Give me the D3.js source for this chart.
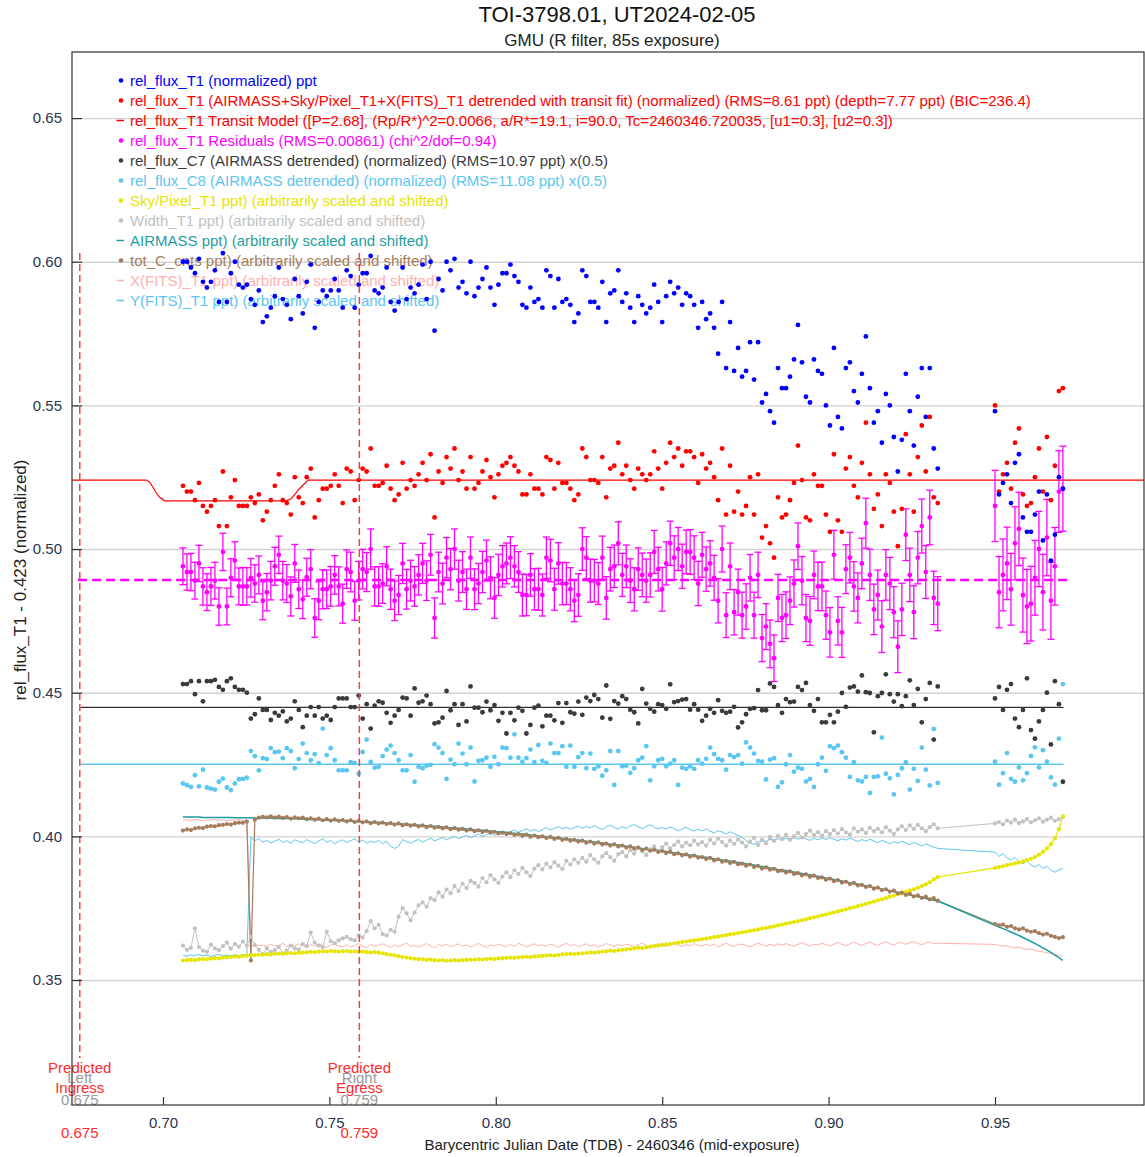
<!DOCTYPE html>
<html>
<head>
<meta charset="utf-8">
<script src="https://cdn.jsdelivr.net/npm/d3@7"></script>
<style>
  body { margin: 0; background: #fff; }
  svg { font-family: "Liberation Sans", Arial, sans-serif; }
</style>
</head>
<body>
<div id="chart"></div>
<script>
// time axis: (BJD_TDB - 2460346) x 1e4
const bjd = [
  7060,7072,7084,7096,7108,7120,7132,7144,7156,7168,
  7180,7192,7204,7216,7228,7240,7252,7264,7276,7288,
  7300,7312,7324,7336,7348,7360,7372,7384,7396,7408,
  7420,7432,7444,7456,7468,7480,7492,7504,7516,7528,
  7540,7552,7564,7576,7588,7600,7612,7624,7636,7648,
  7660,7672,7684,7696,7708,7720,7732,7744,7756,7768,
  7780,7792,7804,7816,7828,7840,7852,7864,7876,7888,
  7900,7912,7924,7936,7948,7960,7972,7984,7996,8008,
  8020,8032,8044,8056,8068,8080,8092,8104,8116,8128,
  8140,8152,8164,8176,8188,8200,8212,8224,8236,8248,
  8260,8272,8284,8296,8308,8320,8332,8344,8356,8368,
  8380,8392,8404,8416,8428,8440,8452,8464,8476,8488,
  8500,8512,8524,8536,8548,8560,8572,8584,8596,8608,
  8620,8632,8644,8656,8668,8680,8692,8704,8716,8728,
  8740,8752,8764,8776,8788,8800,8812,8824,8836,8848,
  8860,8872,8884,8896,8908,8920,8932,8944,8956,8968,
  8980,8992,9004,9016,9028,9040,9052,9064,9076,9088,
  9100,9112,9124,9136,9148,9160,9172,9184,9196,9208,
  9220,9232,9244,9256,9268,9280,9292,9304,9316,9328,
  9500,9512,9524,9536,9548,9560,9572,9584,9596,9608,
  9620,9632,9644,9656,9668,9680,9692,9704
];

// all plotted values below are (plot y) x 1000
const relFluxT1 = [
  600,600,598,596,601,593,591,593,597,586,
  603,586,596,600,592,591,592,587,585,590,
  579,581,584,588,598,587,585,580,594,588,
  582,593,599,577,586,590,588,590,594,590,
  584,597,595,584,592,596,596,602,590,589,
  591,598,586,583,586,598,587,591,589,592,
  599,587,600,576,594,590,600,597,601,591,
  593,589,600,588,591,594,598,591,585,592,
  596,596,599,595,593,585,584,591,586,587,
  584,597,595,584,594,586,587,585,579,582,
  597,595,586,586,584,593,579,589,590,597,
  586,589,584,579,588,585,582,584,592,586,
  579,588,593,589,591,585,589,588,585,577,
  586,580,582,577,568,586,563,579,562,570,
  560,562,572,559,572,551,554,548,544,563,
  556,556,560,566,578,565,553,551,566,562,
  561,550,543,570,546,542,563,565,555,551,
  561,574,556,544,548,537,554,550,539,527,
  538,561,548,536,553,563,546,563,535,528,
  548,519,523,526,516,530,533,511,506,506,
  512,520,503,519,496,505,525,521
];

const detrendedT1 = [
  522,520,520,517,523,515,513,515,517,508,
  527,508,518,524,515,515,515,518,516,519,
  510,513,517,522,526,517,516,512,525,518,
  516,525,528,511,517,521,521,522,526,522,
  516,528,527,517,524,528,527,535,522,522,
  523,529,521,517,519,530,521,524,522,526,
  530,524,533,511,527,523,532,528,535,524,
  527,521,532,521,523,527,531,525,518,526,
  529,530,532,529,527,519,519,526,521,521,
  519,532,531,521,530,523,523,521,517,519,
  535,532,524,524,523,532,518,528,529,537,
  526,529,524,521,528,526,524,526,534,528,
  521,530,537,532,535,529,534,534,532,523,
  533,528,530,525,517,535,512,529,513,520,
  512,515,525,512,526,504,508,502,497,518,
  511,512,517,523,536,524,511,510,526,522,
  522,512,506,533,510,506,528,532,522,518,
  530,544,526,514,519,508,526,523,513,501,
  514,540,526,513,532,543,527,546,518,516,
  550,520,526,530,521,537,542,519,515,516,
  525,535,520,539,517,529,555,556
];

const residualsT1 = [
  494,492,492,489,495,487,485,487,489,480,
  499,480,490,496,487,487,487,490,488,491,
  482,485,489,494,498,489,488,483.5,495,486,
  482.5,490.2,493,476,482,486,486,487,491,487,
  481,493,492,482,489,493,492,500,487,487,
  488,494,486,482,484,495,486,489,487,491,
  495,489,498,476,492,488,497,493,500,489,
  492,486,497,486,488,492,496,490,483,491,
  494,495,497,494,492,484,484,491,486,486,
  484,497,496,486,495,488,488,486,482,484,
  500,497,489,489,488,497,483,493,494,502,
  491,494,489,486,493,491,489,491,499,493,
  486,495,502,497,500,494,499,499,497,488,
  498,493,495,490,482,500,477,494,478,485,
  477,480,490,477,491,469,473,467,462,483,
  476,477,482,488,501,489,476,475,491,487,
  487,477,471,498,475,471,493,497,487,483,
  495,509,491,479,484,473,491,488,478,466,
  479,505,491,478,497,508,492,511,483,481,
  515,485,491,495,486,502,507,484,480,481,
  490,500,485,504,482,494,520,521
];

const residualErr = [
  6.4,6.3,6.5,6.4,6.3,6.5,6.4,6.6,6.4,6.5,
  6.5,6.4,6.6,6.5,6.4,6.6,6.5,6.7,6.5,6.6,
  6.6,6.5,6.7,6.6,6.5,6.7,6.6,6.8,6.6,6.7,
  6.7,6.6,6.8,6.7,6.6,6.8,6.7,6.9,6.7,6.8,
  6.8,6.7,6.9,6.8,6.7,6.9,6.8,7.0,6.8,6.9,
  6.9,6.8,7.0,6.9,6.8,7.0,6.9,7.1,6.9,7.0,
  7.0,6.9,7.1,7.0,6.9,7.1,7.0,7.2,7.0,7.1,
  7.1,7.0,7.2,7.1,7.0,7.2,7.1,7.3,7.1,7.2,
  7.2,7.1,7.3,7.2,7.1,7.3,7.2,7.4,7.2,7.3,
  7.3,7.2,7.4,7.3,7.2,7.4,7.3,7.5,7.3,7.4,
  7.4,7.3,7.5,7.4,7.3,7.5,7.4,7.6,7.4,7.5,
  7.5,7.4,7.6,7.5,7.4,7.6,7.5,7.7,7.5,7.6,
  7.6,7.5,7.7,7.6,7.5,7.7,7.6,7.8,7.6,7.7,
  7.8,7.7,7.9,7.8,7.7,8.0,7.8,8.1,7.9,8.0,
  8.0,7.9,8.1,8.0,7.9,8.2,8.0,8.3,8.1,8.2,
  8.2,8.1,8.3,8.2,8.1,8.4,8.2,8.5,8.3,8.4,
  8.5,8.4,8.6,8.5,8.4,8.7,8.5,8.8,8.6,8.7,
  8.8,8.7,8.9,8.8,8.7,9.0,8.8,9.1,8.9,9.0,
  9.1,9.0,9.3,9.2,9.1,9.4,9.2,9.5,9.3,9.4,
  12.4,12.4,12.5,12.6,12.5,12.7,12.8,12.9,12.9,13.0,
  13.0,13.1,13.2,13.3,13.4,13.5,14.2,14.8
];

const relFluxC7 = [
  453,453,454,449.5,454,447,454,454,454.5,452,
  451,454,455,452,451,451,450,441,442.5,448,
  444,444,440.5,443,442,443.5,440,441,447,444,
  438,442,445,442,445,441,442,440.5,445,448,
  448,448,445,445,449,441,446,437.5,445.5,447,
  446.5,443,439.5,442,444,448.3,448,442,451.5,446.5,
  447,449,446,439.3,439.7,441.3,450.6,443.9,446,438.8,
  446,440,452.2,444.8,444.8,443.2,446.9,443.9,445.7,440.2,
  443,435.8,443,440.4,444.8,443.7,435.8,438.8,444.8,445.5,
  438.3,442,442,440.4,446.4,439.5,446.4,443.2,442.7,446.9,
  442.3,448.3,447.1,449.2,447.8,441.3,452.5,440.9,447.1,446.2,
  448.8,447.8,444.1,443.2,439.3,451.3,446.2,444.4,443.4,446,
  445.7,444.4,452.9,446.7,447.1,447.6,447.8,444.1,446,444.1,
  440.2,442,444.4,443,447.4,443.7,443,443.4,445.1,437.9,
  439.7,442.5,444.4,444.6,450.9,443.9,443.9,453.2,452,445.7,
  443,447.8,446.7,446.9,452,450.9,453.4,445.7,443.7,447.8,
  439.7,439.7,442.3,439.7,443.4,449.9,445.1,451.8,452.2,450.4,
  456,450.2,449.9,436.2,448.8,449.9,456.4,449.5,446.9,449.5,
  445.3,448.8,454.3,445.7,451.3,439.7,447.8,453.4,433.7,452.2,
  448,452,444,451,453,441,438,444,455,437,
  434,440,444,450,432,454,446,419
];

const relFluxC8 = [
  418.4,417.8,417.2,421.3,417.4,423.2,417,416.6,416.3,419,
  420.1,417,416.1,418.4,419.9,420,420.4,429.7,427.9,423,
  427.2,426.9,430.7,429.3,429.5,427.2,430.7,429.7,423.7,426.9,
  432.3,429,426.5,428.6,425.5,437.5,428.3,430.7,426.5,423,
  423,423,425.8,425.5,421.8,429.4,433.7,425.9,423.9,424.2,
  427.9,430.2,431.6,429,426.5,423,423,428.3,419,424.2,
  423.7,424.6,424.9,432.1,430.9,429,420,426.7,425.1,432.3,
  428.8,425.1,430.9,419.1,426.3,426.5,427.4,424.2,427.7,425.1,
  430.9,430.7,427.4,435.5,427.4,426,427.2,430.2,425.8,431.8,
  426.3,425.6,432.3,429,429,431.4,424.2,431.6,424.2,427.6,
  429,423.7,428.8,423.5,424.4,421.1,423,429.7,417.9,429.7,
  424.4,424.6,422.1,423.7,426.5,427.4,431.4,419.5,424.4,426.5,
  427,424.4,425.3,426.5,417.9,423.9,423.5,424.4,423.5,426.5,
  425.3,427,430.9,428.6,427,426.5,423.2,428.3,427.6,428.3,
  425.3,432.7,430.9,428.8,426.3,426,419.8,426.7,427.2,417.2,
  418.8,425.1,428.3,422.5,423.9,423.5,419.1,420,417.2,425.1,
  427.4,422.8,431.4,430.7,431.6,429.3,427.4,420.7,425.8,419.5,
  419.1,420.7,415.1,420.7,420.9,434.4,421.8,420.2,414.6,421.4,
  423.7,425.8,416.3,423.5,419.3,430.9,423.2,417.7,437.4,418.6,
  426,418,422,429,420,419,424,419.5,422,428,
  431,424,430,426,420.5,418,434,453
];

const skyPixelT1 = [
  356.8,356.9,357.0,356.9,357.2,357.3,357.2,357.5,357.6,357.5,
  357.8,357.9,358.0,358.2,358.1,358.4,358.5,358.6,358.7,358.8,
  358.8,359.0,358.9,359.1,359.2,359.1,359.3,359.4,359.3,359.5,
  359.5,359.6,359.8,359.7,359.9,360.0,359.9,360.1,360.0,359.9,
  360.0,360.1,359.9,360.0,359.8,359.9,359.7,359.6,359.7,359.5,
  359.3,359.0,358.8,358.6,358.3,358.0,357.8,357.6,357.4,357.3,
  357.2,357.0,357.1,356.9,356.8,356.9,356.7,356.8,356.9,356.8,
  356.9,357.0,357.0,357.1,357.2,357.1,357.3,357.4,357.3,357.5,
  357.6,357.7,357.8,357.7,357.9,358.0,358.1,358.0,358.2,358.3,
  358.4,358.5,358.6,358.5,358.7,358.9,359.0,359.1,359.0,359.2,
  359.3,359.4,359.6,359.5,359.7,359.9,360.0,360.2,360.1,360.3,
  360.5,360.7,360.8,361.0,361.2,361.1,361.4,361.6,361.8,362.0,
  362.2,362.4,362.5,362.8,363.0,363.2,363.4,363.6,363.8,364.0,
  364.2,364.4,364.7,364.9,365.1,365.4,365.6,365.9,366.1,366.3,
  366.6,366.8,367.1,367.3,367.6,367.9,368.1,368.4,368.7,369.0,
  369.3,369.6,369.9,370.2,370.5,370.8,371.1,371.5,371.8,372.1,
  372.5,372.8,373.2,373.5,373.9,374.2,374.6,375.0,375.3,375.7,
  376.1,376.5,376.9,377.3,377.7,378.1,378.5,379.0,379.4,379.8,
  380.2,380.7,381.1,381.6,382.1,382.7,383.3,384.0,385.0,385.8,
  389.0,389.3,389.6,390.0,390.3,390.6,390.9,391.3,391.7,392.2,
  392.8,393.6,394.6,395.8,397.3,399.3,402.5,407.0
];

const widthT1 = [
  362.0,360.5,361.2,368.0,361.5,360.2,359.8,362.3,361.0,360.4,
  361.8,363.0,360.9,362.5,361.6,363.4,362.0,365.0,362.2,360.5,
  359.0,361.0,359.8,360.4,361.5,359.3,360.2,362.0,361.0,360.6,
  362.5,361.8,366.5,363.0,362.0,361.5,366.8,363.5,362.8,363.8,
  364.5,365.0,364.2,363.8,365.6,364.8,367.0,370.5,368.0,369.2,
  366.0,365.5,367.5,366.8,372.0,375.0,373.2,370.8,373.5,376.0,
  377.0,375.5,378.5,377.8,380.5,379.0,381.5,380.2,382.8,381.0,
  383.5,382.0,384.5,383.8,382.5,385.5,384.0,386.5,385.0,383.8,
  386.0,387.5,385.8,388.2,386.9,389.0,387.5,386.2,388.8,390.0,
  388.5,390.5,389.2,391.0,389.8,388.6,391.5,390.2,392.0,390.8,
  392.5,391.2,393.5,392.0,390.8,393.0,394.2,392.8,391.5,393.8,
  394.5,393.0,395.2,394.0,396.0,394.8,393.5,395.5,396.5,395.0,
  396.2,397.5,395.8,397.0,398.2,396.5,397.8,396.9,398.5,397.2,
  398.0,396.8,398.8,397.5,399.2,398.0,396.8,398.5,397.4,398.9,
  397.8,396.5,398.2,399.5,397.0,398.8,397.6,399.8,398.4,400.2,
  399.0,400.5,398.8,400.0,401.2,399.6,400.8,402.0,400.4,401.5,
  400.2,401.8,400.8,402.2,401.0,402.5,401.4,400.6,402.8,401.6,
  402.4,401.2,403.0,401.8,402.6,401.4,403.2,402.0,400.8,402.4,
  403.5,402.2,403.8,402.6,404.0,402.8,401.8,403.2,404.2,402.8,
  404.5,405.0,404.2,405.5,404.8,405.8,404.6,405.2,406.0,404.9,
  405.6,406.3,405.1,405.8,406.5,405.4,406.0,406.8
];

const airmass = [
  406.7,406.7,406.7,406.7,406.7,406.6,406.6,406.6,406.6,406.6,
  406.6,406.6,406.6,406.5,406.5,406.5,406.5,406.5,406.4,406.4,
  406.4,406.4,406.3,406.3,406.2,406.2,406.2,406.1,406.1,406.0,
  406.0,405.9,405.9,405.8,405.8,405.7,405.6,405.6,405.5,405.5,
  405.4,405.3,405.3,405.2,405.1,405.1,405.0,404.9,404.8,404.8,
  404.7,404.6,404.5,404.4,404.3,404.3,404.2,404.1,404.0,403.9,
  403.8,403.7,403.6,403.5,403.4,403.3,403.1,403.0,402.9,402.8,
  402.7,402.6,402.5,402.3,402.2,402.1,402.0,401.9,401.7,401.6,
  401.5,401.4,401.2,401.1,400.9,400.8,400.7,400.5,400.4,400.2,
  400.1,399.9,399.8,399.6,399.5,399.3,399.1,399.0,398.8,398.7,
  398.5,398.3,398.2,398.0,397.8,397.7,397.5,397.3,397.1,397.0,
  396.8,396.6,396.4,396.2,396.0,395.8,395.7,395.5,395.3,395.1,
  394.9,394.7,394.5,394.3,394.1,393.9,393.7,393.5,393.3,393.1,
  392.9,392.7,392.5,392.2,392.0,391.8,391.6,391.4,391.1,390.9,
  390.7,390.5,390.2,390.0,389.7,389.5,389.3,389.0,388.8,388.5,
  388.3,388.1,387.8,387.6,387.3,387.1,386.8,386.6,386.3,386.1,
  385.8,385.5,385.3,385.0,384.7,384.5,384.2,383.9,383.6,383.4,
  383.1,382.8,382.5,382.2,381.9,381.7,381.4,381.1,380.8,380.5,
  380.2,379.9,379.6,379.3,379.0,378.7,378.4,378.1,377.8,377.5,
  369.0,368.45,367.9,367.3,366.7,366.1,365.5,364.8,364.1,363.4,
  362.7,362.0,361.2,360.4,359.6,358.7,357.8,356.8
];

const totCompCounts = [
  402.0,402.4,402.2,402.8,403.0,402.9,403.4,403.6,403.5,403.9,
  404.0,404.3,404.1,404.6,404.8,404.7,405.1,356.8,405.8,406.5,
  406.8,406.6,407.0,406.5,406.9,406.4,406.7,406.2,406.6,406.3,
  406.5,406.0,406.3,405.8,406.2,405.6,406.0,405.5,405.9,405.4,
  405.7,405.2,405.6,405.0,405.4,404.9,405.2,404.6,405.0,404.5,
  404.8,404.3,404.6,404.1,404.5,403.9,404.2,403.7,404.0,403.5,
  403.8,403.2,403.6,403.0,403.3,402.8,403.1,402.5,402.9,402.3,
  402.6,402.0,402.4,401.8,402.1,401.5,401.9,401.3,401.6,401.0,
  401.3,400.8,401.1,400.5,400.8,400.2,400.6,399.9,400.3,399.7,
  400.0,399.4,399.8,399.1,399.5,398.8,399.1,398.5,398.8,398.2,
  398.5,397.8,398.2,397.5,397.9,397.2,397.5,396.8,397.2,396.5,
  396.8,396.1,396.5,395.7,396.1,395.3,395.7,395.0,395.3,394.6,
  394.9,394.2,394.6,393.8,394.1,393.4,393.7,392.9,393.3,392.6,
  392.8,392.1,392.5,391.6,392.0,391.2,391.5,390.7,391.1,390.3,
  390.5,389.8,390.2,389.3,389.7,388.8,389.2,388.4,388.7,387.9,
  388.1,387.4,387.8,386.9,387.2,386.4,386.8,385.9,386.3,385.5,
  385.7,384.9,385.3,384.4,384.8,383.9,384.2,383.4,383.8,382.9,
  383.1,382.4,382.7,381.8,382.2,381.3,381.6,380.8,381.1,380.2,
  380.4,379.6,380.0,379.1,379.5,378.6,379.0,378.1,378.5,377.6,
  369.5,369.0,369.3,368.5,368.8,368.0,367.6,368.0,367.2,366.8,
  367.0,366.3,365.8,366.1,365.4,365.0,364.6,364.9
];

const xFitsT1 = [
  405.6,405.8,405.5,405.9,405.7,405.4,405.8,405.6,405.9,405.5,
  405.7,405.4,405.8,405.6,405.9,405.5,405.7,361.5,362.4,361.9,
  362.2,361.6,362.5,361.8,362.0,362.8,361.5,362.3,361.9,362.6,
  362.0,361.4,362.3,361.7,362.6,361.9,361.3,362.1,362.5,361.8,
  361.6,362.2,361.5,362.0,362.7,361.8,361.2,362.4,361.7,362.1,
  362.6,361.9,361.4,362.2,361.6,362.3,362.8,361.7,362.0,361.5,
  362.1,362.7,361.8,361.3,362.4,361.9,362.5,361.6,362.0,362.6,
  361.7,362.3,361.5,362.0,362.8,361.9,361.4,362.2,361.8,362.5,
  362.0,361.6,362.4,361.8,362.9,362.2,361.5,362.1,362.6,361.9,
  362.3,361.7,362.5,362.0,361.4,362.2,362.8,361.9,362.4,361.6,
  362.1,362.6,361.8,362.3,361.5,362.0,362.7,362.2,361.7,362.4,
  361.9,362.5,362.1,361.6,362.3,362.8,362.0,361.5,362.2,362.6,
  362.0,361.7,362.4,362.9,362.2,361.6,362.3,361.9,362.7,362.1,
  361.8,362.4,362.0,362.6,361.5,362.2,362.8,362.1,361.7,362.3,
  362.5,362.0,361.6,362.2,362.9,362.3,361.8,362.4,362.0,362.6,
  362.1,362.7,362.2,361.7,362.4,363.0,362.3,361.9,362.5,362.2,
  362.8,362.3,361.9,362.5,363.1,362.4,362.0,362.6,363.2,362.5,
  362.1,362.7,363.2,362.5,362.0,362.8,363.3,362.6,362.2,362.9,
  363.0,362.4,362.9,363.4,362.7,362.3,362.9,363.3,362.6,362.8,
  362.4,362.1,361.8,361.9,361.5,361.2,361.4,360.9,360.6,360.8,
  360.3,360.0,359.8,359.5,359.2,358.9,358.6,358.3
];

const yFitsT1 = [
  358.6,358.3,358.8,358.5,358.9,358.4,358.7,358.2,358.6,358.9,
  358.4,358.7,358.3,358.8,358.5,358.9,358.6,399.7,398.5,399.2,
  398.0,398.6,397.7,398.3,399.0,397.9,398.5,397.6,398.8,398.2,
  397.8,398.9,398.1,397.5,398.4,399.1,397.9,398.6,397.4,398.2,
  398.8,397.9,398.5,399.2,398.0,398.7,397.6,398.3,397.8,398.6,
  397.4,398.3,396.5,395.8,396.6,398.9,398.2,397.6,398.4,398.9,
  398.0,398.7,399.3,398.4,399.0,399.6,398.8,399.4,400.0,399.2,
  399.8,400.4,399.6,400.2,400.8,400.0,400.6,401.2,400.4,401.0,
  401.5,400.8,401.6,402.2,401.4,402.0,402.6,401.8,402.4,401.7,
  402.3,403.0,402.2,402.8,403.4,402.6,403.2,402.5,403.1,403.6,
  402.8,403.5,402.9,403.7,403.0,402.4,403.3,403.9,403.1,402.6,
  403.4,402.8,403.6,404.1,403.3,402.7,403.5,404.0,403.2,402.6,
  403.1,402.5,403.3,402.7,401.9,402.6,403.2,402.4,401.8,402.5,
  401.9,402.6,401.8,401.2,402.0,401.5,400.8,401.6,400.9,400.3,
  399.6,398.5,397.6,397.2,398.0,398.8,398.2,399.0,398.4,399.2,
  398.7,399.4,398.8,399.6,399.0,399.7,399.1,398.6,399.3,398.8,
  399.5,398.9,399.6,399.0,398.4,399.2,398.7,399.4,398.8,398.2,
  398.9,398.3,399.0,398.4,397.8,398.6,398.0,397.4,398.2,397.6,
  398.3,397.7,397.1,397.9,397.3,396.6,397.4,396.8,396.2,395.8,
  394.5,393.0,394.0,392.5,391.8,392.6,391.2,390.5,391.4,390.0,
  389.3,390.2,388.8,389.6,388.2,387.5,388.4,388.8
];

// transit model breakpoints (time in days, value x 1000)
const modelTime = [0.6727, 0.6950, 0.6960, 0.6970, 0.6980, 0.6990, 0.7005, 0.7370, 0.7385, 0.7410, 0.7436, 0.9948];
const modelValue = [524, 524, 523.3, 521.5, 519.5, 518, 516.8, 516.8, 517.5, 521, 524, 524];

const residualLevel = 489.2;
const c7Level = 444.9;
const c8Level = 425.1;

const yTicks = [0.35, 0.40, 0.45, 0.50, 0.55, 0.60, 0.65];
const xTicks = [0.70, 0.75, 0.80, 0.85, 0.90, 0.95];

const predictedTimes = [0.675, 0.759];
const predictedNames = ['Ingress', 'Egress'];
const predictedSides = ['Left', 'Right'];

const legendLabels = [
  'rel_flux_T1 (normalized) ppt',
  'rel_flux_T1 (AIRMASS+Sky/Pixel_T1+X(FITS)_T1 detrended with transit fit) (normalized) (RMS=8.61 ppt) (depth=7.77 ppt) (BIC=236.4)',
  'rel_flux_T1 Transit Model ([P=2.68], (Rp/R*)^2=0.0066, a/R*=19.1, i=90.0, Tc=2460346.720035, [u1=0.3], [u2=0.3])',
  'rel_flux_T1 Residuals (RMS=0.00861) (chi^2/dof=0.94)',
  'rel_flux_C7 (AIRMASS detrended) (normalized) (RMS=10.97 ppt) x(0.5)',
  'rel_flux_C8 (AIRMASS detrended) (normalized) (RMS=11.08 ppt) x(0.5)',
  'Sky/Pixel_T1 ppt) (arbitrarily scaled and shifted)',
  'Width_T1 ppt) (arbitrarily scaled and shifted)',
  'AIRMASS ppt) (arbitrarily scaled and shifted)',
  'tot_C_cnts ppt) (arbitrarily scaled and shifted)',
  'X(FITS)_T1 ppt) (arbitrarily scaled and shifted)',
  'Y(FITS)_T1 ppt) (arbitrarily scaled and shifted)'
];

// ---------------------------------------------------------------
const W = 1145, H = 1157;
const box = {left: 72, top: 52, right: 1144, bottom: 1105};
const col = {
  blue: '#0000ff', red: '#ff0000', magenta: '#ff00ff', c7: '#3a3a3a', c8: '#5bc6f0',
  sky: '#e6e600', width: '#c2c2c2', airmass: '#1f9ea0', tot: '#a67c5b', xfits: '#ffb0b0', yfits: '#5bc6f0'
};
const legendColors = [col.blue, col.red, col.red, col.magenta, col.c7, col.c8, col.sky, col.width, col.airmass, col.tot, col.xfits, col.yfits];
const legendKinds = ['dot','dot','dash','dot','dot','dot','dot','dot','dash','dot','dash','dash'];

const x = d3.scaleLinear().domain([0.67266, 0.99477]).range([box.left, box.right]);
const y = d3.scaleLinear().domain([0.3065, 0.6730]).range([box.bottom, box.top]);

const t = bjd.map(b => b / 1e4);
const px = i => x(t[i]);
const py = v => y(v / 1000);

const svg = d3.select('#chart').append('svg').attr('width', W).attr('height', H);

svg.append('defs').append('clipPath').attr('id', 'plotclip')
  .append('rect').attr('x', box.left).attr('y', box.top)
  .attr('width', box.right - box.left).attr('height', box.bottom - box.top);

// horizontal grid
svg.append('g')
  .attr('transform', `translate(${box.left},0)`)
  .call(d3.axisLeft(y).tickValues(yTicks).tickSize(-(box.right - box.left)).tickFormat(''))
  .call(g => g.select('.domain').remove())
  .call(g => g.selectAll('line').attr('stroke', '#d2d2d2').attr('stroke-width', 1.4));

// legend (drawn under the data)
const leg = svg.append('g');
legendLabels.forEach((lab, i) => {
  const ly = 80.5 + 20 * i;
  if (legendKinds[i] === 'dot') {
    leg.append('circle').attr('cx', 121).attr('cy', ly).attr('r', 2.3).attr('fill', legendColors[i]);
  } else {
    leg.append('line').attr('x1', 116.5).attr('x2', 124).attr('y1', ly).attr('y2', ly)
      .attr('stroke', legendColors[i]).attr('stroke-width', 1.5);
  }
  leg.append('text').attr('x', 130).attr('y', ly + 5.5).attr('font-size', 15)
    .attr('fill', legendColors[i]).text(lab);
});

const plot = svg.append('g').attr('clip-path', 'url(#plotclip)');

const lineOf = arr => d3.line().x((d, i) => px(i)).y(d => py(d))(arr);

// reference levels
plot.append('line').attr('x1', x(0.6752)).attr('x2', x(0.9706))
  .attr('y1', py(c7Level)).attr('y2', py(c7Level)).attr('stroke', '#333').attr('stroke-width', 1.2);
plot.append('line').attr('x1', x(0.6752)).attr('x2', x(0.9706))
  .attr('y1', py(c8Level)).attr('y2', py(c8Level)).attr('stroke', col.c8).attr('stroke-width', 1.5);

// transit model
plot.append('path')
  .attr('d', d3.line().x((d, i) => x(modelTime[i])).y(d => py(d))(modelValue))
  .attr('fill', 'none').attr('stroke', col.red).attr('stroke-width', 1.2);

// ancillary curves
const lines = [
  [xFitsT1, col.xfits, 1],
  [yFitsT1, col.yfits, 1],
  [widthT1, col.width, 1],
  [skyPixelT1, col.sky, 1.2],
  [totCompCounts, col.tot, 1.2],
  [airmass, col.airmass, 1.5]
];
lines.forEach(([arr, c, w]) => {
  plot.append('path').attr('d', lineOf(arr)).attr('fill', 'none').attr('stroke', c).attr('stroke-width', w);
});

function dots(arr, c, r) {
  plot.append('g').selectAll('circle').data(arr).join('circle')
    .attr('cx', (d, i) => px(i)).attr('cy', d => py(d)).attr('r', r).attr('fill', c);
}
dots(widthT1, col.width, 2.1);
dots(skyPixelT1, col.sky, 2.1);
dots(totCompCounts, col.tot, 2.1);
dots(relFluxC8, col.c8, 2.4);
dots(relFluxC7, col.c7, 2.4);

// residuals with error bars
plot.append('line').attr('x1', x(0.6745)).attr('x2', x(0.9725))
  .attr('y1', py(residualLevel)).attr('y2', py(residualLevel))
  .attr('stroke', col.magenta).attr('stroke-width', 2.5).attr('stroke-dasharray', '9,5');
const eb = plot.append('g').attr('stroke', col.magenta).attr('stroke-width', 1.3);
residualsT1.forEach((v, i) => {
  const cx = px(i), y0 = py(v - residualErr[i]), y1 = py(v + residualErr[i]);
  eb.append('line').attr('x1', cx).attr('x2', cx).attr('y1', y0).attr('y2', y1);
  eb.append('line').attr('x1', cx - 3.5).attr('x2', cx + 3.5).attr('y1', y0).attr('y2', y0);
  eb.append('line').attr('x1', cx - 3.5).attr('x2', cx + 3.5).attr('y1', y1).attr('y2', y1);
});
dots(residualsT1, col.magenta, 2.4);
dots(detrendedT1, col.red, 2.4);
dots(relFluxT1, col.blue, 2.4);

// predicted ingress / egress markers
predictedTimes.forEach((pt, i) => {
  const lx = x(pt);
  svg.append('line').attr('x1', lx).attr('x2', lx).attr('y1', 253).attr('y2', 1058)
    .attr('stroke', '#ff3b3b').attr('stroke-width', 1.5).attr('stroke-dasharray', '7,4');
  const g = svg.append('g').attr('font-size', 15).attr('text-anchor', 'middle');
  g.append('text').attr('x', lx).attr('y', 1083).attr('fill', '#9a9a9a').text(predictedSides[i]);
  g.append('text').attr('x', lx).attr('y', 1105).attr('fill', '#9a9a9a').text(d3.format('.3f')(pt));
  g.append('text').attr('x', lx).attr('y', 1073).attr('fill', '#ff2a2a').text('Predicted');
  g.append('text').attr('x', lx).attr('y', 1093).attr('fill', '#ff2a2a').text(predictedNames[i]);
  g.append('text').attr('x', lx).attr('y', 1138).attr('fill', '#ff2a2a').text(d3.format('.3f')(pt));
});

// frame and axes
svg.append('rect').attr('x', box.left).attr('y', box.top)
  .attr('width', box.right - box.left).attr('height', box.bottom - box.top)
  .attr('fill', 'none').attr('stroke', '#333').attr('stroke-width', 1.2);

svg.append('g')
  .attr('transform', `translate(${box.left},0)`)
  .call(d3.axisLeft(y).tickValues(yTicks).tickSize(-10).tickPadding(10).tickFormat(d3.format('.2f')))
  .call(g => g.select('.domain').remove())
  .call(g => g.selectAll('line').attr('stroke', '#333').attr('stroke-width', 1.2))
  .call(g => g.selectAll('text').attr('font-size', 15).attr('fill', '#2b3350')
    .attr('font-family', '"Liberation Sans", Arial, sans-serif'));

svg.append('g')
  .attr('transform', `translate(0,${box.bottom})`)
  .call(d3.axisBottom(x).tickValues(xTicks).tickSize(-8).tickPadding(12).tickFormat(d3.format('.2f')))
  .call(g => g.select('.domain').remove())
  .call(g => g.selectAll('line').attr('stroke', '#333').attr('stroke-width', 1.2))
  .call(g => g.selectAll('text').attr('font-size', 15).attr('fill', '#2b3350')
    .attr('font-family', '"Liberation Sans", Arial, sans-serif'));

// titles
svg.append('text').attr('x', 617).attr('y', 22).attr('text-anchor', 'middle')
  .attr('font-size', 22).attr('fill', '#111').text('TOI-3798.01, UT2024-02-05');
svg.append('text').attr('x', 612).attr('y', 46).attr('text-anchor', 'middle')
  .attr('font-size', 17).attr('fill', '#222').text('GMU (R filter, 85s exposure)');
svg.append('text').attr('x', 612).attr('y', 1150).attr('text-anchor', 'middle')
  .attr('font-size', 15).attr('fill', '#222').text('Barycentric Julian Date (TDB) - 2460346 (mid-exposure)');
svg.append('text').attr('transform', 'translate(26,580) rotate(-90)').attr('text-anchor', 'middle')
  .attr('font-size', 17).attr('fill', '#222').text('rel_flux_T1 - 0.423 (normalized)');
</script>
</body>
</html>
